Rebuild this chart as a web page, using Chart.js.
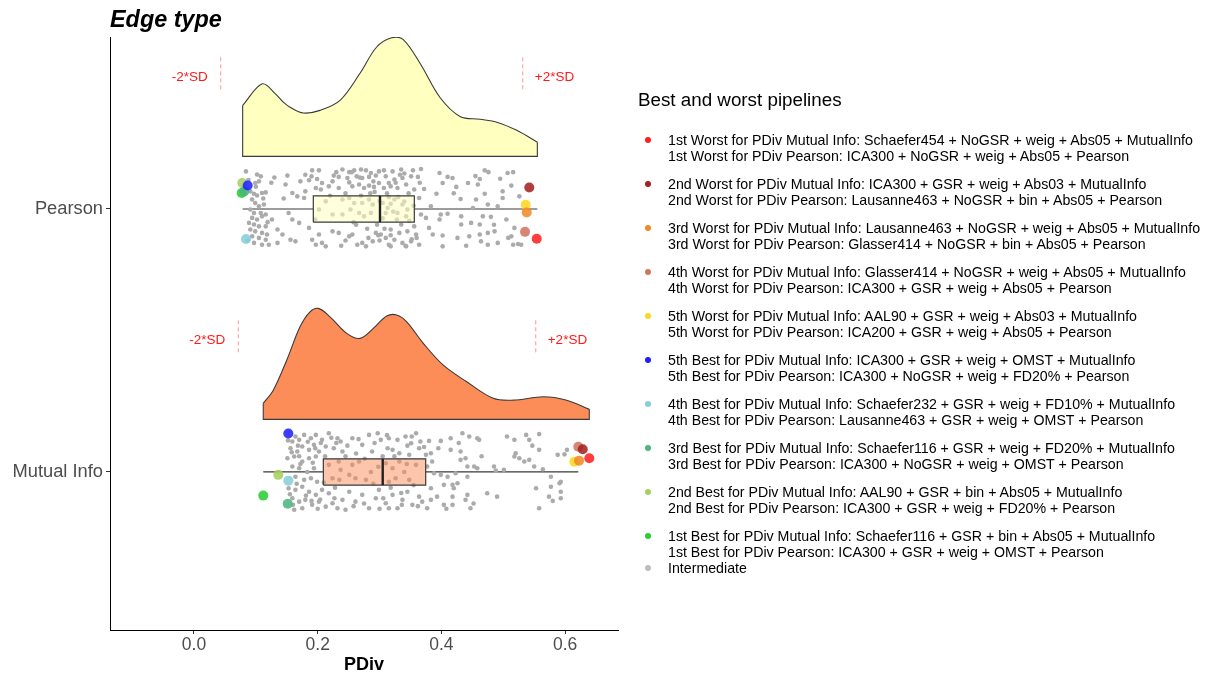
<!DOCTYPE html>
<html>
<head>
<meta charset="utf-8">
<script src="https://cdn.jsdelivr.net/npm/chart.js@4.4.0/dist/chart.umd.min.js"></script>
<style>
  body { margin: 0; background: #fff; font-family: "Liberation Sans", Arial, sans-serif; }
  #wrap { position: relative; width: 1216px; height: 676px; }
  #chart { position: absolute; left: 0; top: 0; }
  .lg-title { position: absolute; left: 638px; top: 89px; font-size: 18.8px; color: #000; white-space: nowrap; }
  .lg-item { position: absolute; left: 668px; font-size: 14.2px; line-height: 16px; color: #000; white-space: nowrap; }
  .lg-dot { position: absolute; left: 645px; width: 6px; height: 6px; border-radius: 50%; }
</style>
</head>
<body>
<div id="wrap">
  <canvas id="chart" width="1216" height="676"></canvas>
  <div id="legend"></div>
</div>
<script>
// ---- data ----
const categories = ['Mutual Info', 'Pearson'];
const categoryPos = [1, 2];
const xTicks = [0.0, 0.2, 0.4, 0.6];

// density curves (height in category-spacing units)
const pearsonDensityX = [0.0787, 0.1104, 0.1316, 0.1444, 0.1552, 0.1767, 0.2037, 0.2361, 0.2684, 0.2954, 0.3196, 0.3379, 0.3654, 0.3977, 0.4301, 0.4624, 0.4894, 0.5218, 0.5551];
const pearsonDensity  = [0.194, 0.276, 0.238, 0.206, 0.187, 0.165, 0.175, 0.213, 0.316, 0.416, 0.451, 0.445, 0.354, 0.224, 0.152, 0.141, 0.130, 0.099, 0.054];
const miDensityX = [0.1120, 0.1282, 0.1499, 0.1714, 0.1876, 0.2010, 0.2199, 0.2469, 0.2684, 0.2899, 0.3116, 0.3277, 0.3439, 0.3708, 0.4031, 0.4409, 0.4839, 0.5163, 0.5648, 0.6026, 0.6391];
const miDensity  = [0.061, 0.111, 0.225, 0.352, 0.409, 0.422, 0.390, 0.327, 0.308, 0.346, 0.393, 0.397, 0.371, 0.289, 0.206, 0.143, 0.080, 0.073, 0.086, 0.073, 0.038];

// boxplot stats, order: Mutual Info, Pearson
const boxMin    = [0.1120, 0.0787];
const boxQ1     = [0.2091, 0.1929];
const boxMedian = [0.3051, 0.3007];
const boxQ3     = [0.3746, 0.3562];
const boxMax    = [0.6213, 0.5551];

// mean -/+ 2*SD
const sdLow  = [0.0716, 0.0432];
const sdHigh = [0.5525, 0.5315];

// intermediate pipelines: [PDiv, vertical jitter]
const pearsonPoints = [
  [0.084,0.143],[0.102,0.131],[0.108,0.124],[0.151,0.127],[0.191,0.147],[0.202,0.147],[0.190,0.124],[0.240,0.150],[0.251,0.140],[0.259,0.147],[0.270,0.150],[0.278,0.147],[0.286,0.137],[0.299,0.143],[0.307,0.147],[0.226,0.127],[0.234,0.122],[0.248,0.118],[0.263,0.124],[0.272,0.118],[0.283,0.122],[0.294,0.127],[0.310,0.124],
  [0.099,0.099],[0.105,0.105],[0.148,0.093],[0.172,0.105],[0.186,0.109],[0.199,0.114],[0.180,0.067],[0.178,0.042],[0.251,0.101],[0.256,0.086],[0.267,0.093],[0.275,0.080],[0.283,0.089],[0.291,0.084],[0.299,0.099],[0.307,0.080],[0.315,0.099],[0.224,0.105],[0.207,0.099],
  [0.091,0.067],[0.097,0.058],[0.102,0.051],[0.110,0.061],[0.116,0.063],[0.159,0.061],[0.167,0.048],[0.197,0.080],[0.205,0.074],[0.218,0.086],[0.234,0.080],
  [0.213,0.029],[0.240,0.036],[0.251,0.042],[0.259,0.023],[0.272,0.023],[0.283,0.036],[0.289,0.017],[0.253,-0.002],[0.240,-0.021],[0.267,-0.015],[0.275,-0.028],[0.286,-0.015],[0.224,-0.021],[0.202,-0.002],[0.305,0.023],[0.313,0.004],[0.310,-0.015],
  [0.094,0.036],[0.099,0.023],[0.105,0.010],[0.113,0.017],[0.091,-0.002],[0.097,-0.015],[0.108,-0.015],[0.116,-0.021],[0.094,-0.034],[0.102,-0.040],[0.110,-0.028],[0.089,-0.053],[0.097,-0.059],[0.105,-0.066],[0.116,-0.066],[0.091,-0.078],[0.099,-0.085],[0.110,-0.091],[0.118,-0.097],[0.094,-0.104],[0.105,-0.110],[0.116,-0.117],[0.097,-0.129],[0.110,-0.136],[0.121,-0.136],
  [0.135,-0.129],[0.156,-0.117],[0.164,-0.123],[0.191,-0.117],[0.197,-0.136],[0.207,-0.129],[0.213,-0.142],[0.224,-0.085],[0.234,-0.091],[0.251,-0.104],[0.256,-0.097],[0.264,-0.136],[0.272,-0.129],[0.278,-0.142],[0.289,-0.123],[0.294,-0.091],[0.302,-0.097],[0.310,-0.110],[0.315,-0.136],[0.153,-0.015],[0.159,-0.040],[0.170,-0.053],[0.186,-0.072],[0.202,-0.097],[0.126,-0.040],[0.135,-0.078],[0.143,-0.097],
  [0.321,0.143],[0.335,0.150],[0.354,0.147],[0.367,0.152],[0.324,0.112],[0.337,0.118],[0.351,0.124],[0.362,0.122],[0.318,0.086],[0.329,0.080],[0.343,0.093],[0.356,0.074],[0.372,0.076],[0.364,0.042],[0.324,0.036],[0.337,0.017],[0.345,-0.002],[0.329,-0.015],[0.343,-0.028],[0.367,-0.021],[0.375,-0.034],[0.383,0.010],[0.318,-0.078],[0.332,-0.091],[0.345,-0.085],[0.359,-0.097],[0.324,-0.117],[0.337,-0.129],[0.351,-0.123],[0.364,-0.136],[0.318,-0.142],[0.343,-0.142],[0.356,-0.066],[0.335,-0.059],
  [0.397,0.137],[0.410,0.122],[0.418,0.118],[0.402,0.099],[0.424,0.084],[0.392,0.058],[0.443,0.099],[0.459,0.093],[0.462,0.114],[0.470,0.147],[0.476,0.140],[0.470,0.058],[0.456,0.036],[0.431,0.038],[0.475,0.017],[0.451,0.004],[0.491,0.010],[0.499,0.067],[0.499,0.042],[0.513,0.089],[0.507,0.137],[0.516,0.140],[0.526,0.048],
  [0.399,-0.021],[0.410,-0.018],[0.397,-0.040],[0.432,-0.028],[0.432,-0.059],[0.448,-0.053],[0.467,-0.028],[0.480,-0.030],[0.505,-0.040],[0.462,-0.059],[0.475,-0.091],[0.486,-0.085],[0.462,-0.097],[0.445,-0.104],[0.426,-0.110],[0.402,-0.101],[0.386,-0.097],[0.380,-0.072],[0.402,-0.142],[0.464,-0.123],[0.475,-0.136],[0.491,-0.129],[0.516,-0.136],[0.524,-0.133],[0.529,-0.136],[0.513,-0.104],[0.518,-0.072],
  [0.300,0.030],[0.305,-0.035],[0.318,0.020],[0.322,-0.010],[0.330,0.045],[0.340,0.028],[0.348,-0.045],[0.355,0.012],[0.296,-0.060],[0.308,-0.075],[0.312,0.060],[0.326,0.100],[0.340,0.135],[0.360,-0.110],[0.300,-0.120],[0.285,0.060],[0.262,-0.060],[0.245,-0.120],[0.230,0.140],[0.268,0.120],
  [0.088,0.110],[0.100,0.085],[0.112,0.040],[0.119,-0.050],[0.087,-0.120],[0.125,0.100],[0.245,0.060],[0.258,-0.050],[0.270,0.050],[0.280,-0.075],[0.292,0.065],[0.298,-0.100],[0.315,0.045],[0.328,-0.040],[0.333,0.130],[0.347,0.060],[0.352,-0.115],[0.365,0.100],
  [0.238,-0.140],[0.255,0.140],[0.282,-0.110],[0.290,0.105],[0.318,-0.100],[0.342,-0.140],[0.420,0.060],[0.440,-0.140],[0.455,0.125],[0.485,-0.060],[0.495,0.115],[0.508,-0.110],[0.180,0.130],[0.145,0.040],[0.130,0.120],[0.220,0.050],[0.196,-0.040]
];
const miPoints = [
  [0.164,0.135],[0.159,0.116],[0.170,0.122],[0.178,0.141],[0.189,0.128],[0.197,0.141],[0.207,0.122],[0.218,0.147],[0.232,0.128],[0.237,0.116],[0.156,0.090],[0.167,0.078],[0.175,0.097],[0.186,0.084],[0.194,0.103],[0.202,0.078],[0.213,0.097],[0.226,0.090],[0.240,0.078],
  [0.151,0.052],[0.162,0.059],[0.175,0.040],[0.186,0.052],[0.197,0.059],[0.159,0.021],[0.170,0.014],[0.183,0.000],[0.194,0.014],[0.164,-0.018],[0.178,-0.030],[0.189,-0.024],[0.199,-0.037],[0.153,-0.062],[0.164,-0.068],[0.175,-0.056],[0.186,-0.075],[0.197,-0.087],[0.207,-0.068],[0.218,-0.081],
  [0.159,-0.100],[0.170,-0.113],[0.180,-0.106],[0.191,-0.125],[0.202,-0.113],[0.213,-0.132],[0.224,-0.119],[0.162,-0.144],[0.175,-0.138],[0.232,-0.138],[0.240,-0.106],
  [0.218,0.027],[0.234,0.040],[0.237,0.008],[0.224,-0.024],[0.256,0.027],[0.267,0.040],[0.261,-0.024],[0.278,-0.030],[0.286,0.000],[0.251,-0.011],
  [0.256,0.128],[0.272,0.103],[0.283,0.141],[0.297,0.147],[0.302,0.122],[0.313,0.090],[0.321,0.084],[0.315,0.128],[0.329,0.122],[0.342,0.135],[0.351,0.109],[0.359,0.147],[0.288,0.078],[0.332,0.071],[0.348,0.065],[0.364,0.090],
  [0.310,0.033],[0.321,0.014],[0.332,0.040],[0.340,0.000],[0.326,-0.024],[0.348,-0.030],[0.359,0.027],[0.315,-0.037],
  [0.251,-0.075],[0.261,-0.113],[0.272,-0.087],[0.283,-0.138],[0.294,-0.100],[0.299,-0.068],[0.310,-0.119],[0.321,-0.087],[0.329,-0.138],[0.337,-0.106],[0.345,-0.075],[0.353,-0.125],[0.364,-0.094],[0.315,-0.138],[0.245,-0.144],
  [0.366,0.116],[0.380,0.118],[0.399,0.118],[0.415,0.128],[0.434,0.147],[0.445,0.135],[0.461,0.122],[0.415,0.084],[0.431,0.078],[0.375,0.065],[0.383,0.071],[0.431,0.046],[0.439,0.052],[0.385,0.040],[0.377,0.021],[0.442,0.021],[0.453,0.021],[0.458,0.014],[0.485,0.021],[0.501,0.008],[0.488,0.005],
  [0.388,-0.005],[0.399,-0.011],[0.410,-0.018],[0.423,-0.005],[0.442,-0.018],[0.418,-0.049],[0.404,-0.049],[0.383,-0.062],[0.426,-0.043],[0.420,-0.062],[0.369,-0.113],[0.383,-0.106],[0.393,-0.094],[0.404,-0.125],[0.418,-0.125],[0.418,-0.094],[0.442,-0.087],[0.439,-0.106],[0.447,-0.138],[0.377,-0.138],[0.474,-0.081],[0.490,-0.094],
  [0.506,0.135],[0.518,0.122],[0.537,0.141],[0.542,0.122],[0.558,0.144],[0.547,0.100],[0.558,0.084],[0.520,0.071],[0.518,0.059],[0.526,0.052],[0.534,0.040],[0.542,0.046],[0.550,0.021],[0.564,0.010],[0.577,-0.018],[0.593,-0.037],[0.591,-0.043],[0.553,-0.062],[0.577,-0.056],[0.593,-0.075],[0.574,-0.094],[0.580,-0.110],[0.593,-0.100],[0.558,-0.138],[0.588,0.065],[0.599,0.067],[0.603,0.084],[0.458,0.128],
  [0.155,-0.085],[0.168,0.100],[0.181,-0.090],[0.192,0.035],[0.205,0.110],[0.210,-0.040],[0.228,-0.060],[0.245,0.060],[0.262,0.070],[0.275,-0.120],[0.290,-0.045],[0.305,0.060],[0.318,-0.060],[0.335,-0.080],[0.345,0.100],[0.355,-0.050],[0.170,0.060],[0.200,-0.140],[0.230,0.110],[0.300,-0.140],
  [0.158,0.075],[0.166,-0.045],[0.172,0.030],[0.184,0.115],[0.190,-0.110],[0.196,0.090],[0.204,-0.105],[0.212,0.060],[0.222,0.130],[0.227,-0.100],[0.235,-0.030],[0.248,0.100],[0.258,-0.130],[0.266,0.125],[0.276,0.050],[0.292,0.110],
  [0.298,0.020],[0.306,-0.100],[0.312,0.140],[0.324,0.060],[0.336,-0.125],[0.344,0.030],[0.352,0.135],[0.362,-0.130],[0.372,0.095],[0.395,0.090],[0.408,-0.140],[0.428,0.110],[0.452,-0.120],[0.465,0.060],[0.160,-0.125],[0.152,0.120]
];

// best / worst pipelines (legend order)
const pipelineNames = ['1st Worst', '2nd Worst', '3rd Worst', '4th Worst', '5th Worst', '5th Best', '4th Best', '3rd Best', '2nd Best', '1st Best'];
const miPipelines = [
  'Schaefer454 + NoGSR + weig + Abs05 + MutualInfo', 'ICA300 + GSR + weig + Abs03 + MutualInfo', 'Lausanne463 + NoGSR + weig + Abs05 + MutualInfo',
  'Glasser414 + NoGSR + weig + Abs05 + MutualInfo', 'AAL90 + GSR + weig + Abs03 + MutualInfo', 'ICA300 + GSR + weig + OMST + MutualInfo',
  'Schaefer232 + GSR + weig + FD10% + MutualInfo', 'Schaefer116 + GSR + weig + FD20% + MutualInfo', 'AAL90 + GSR + bin + Abs05 + MutualInfo',
  'Schaefer116 + GSR + bin + Abs05 + MutualInfo'
];
const pearsonPipelines = [
  'ICA300 + NoGSR + weig + Abs05 + Pearson', 'Lausanne463 + NoGSR + bin + Abs05 + Pearson', 'Glasser414 + NoGSR + bin + Abs05 + Pearson',
  'ICA300 + GSR + weig + Abs05 + Pearson', 'ICA200 + GSR + weig + Abs05 + Pearson', 'ICA300 + NoGSR + weig + FD20% + Pearson',
  'Lausanne463 + GSR + weig + OMST + Pearson', 'ICA300 + NoGSR + weig + OMST + Pearson', 'ICA300 + GSR + weig + FD20% + Pearson',
  'ICA300 + GSR + weig + OMST + Pearson'
];
const pipelineColors = ['#FF1F1F', '#A3201F', '#F08A26', '#D2735F', '#FFD61F', '#1F1FFF', '#86CDD9', '#4CB57E', '#A5CF5E', '#27CC2E'];
const miHighlightX      = [0.6391, 0.6285, 0.6225, 0.6213, 0.6149, 0.1525, 0.1525, 0.1515, 0.1363, 0.1120];
const miHighlightJitter = [0.052, 0.086, 0.043, 0.096, 0.039, 0.146, -0.033, -0.121, -0.011, -0.090];
const pearsonHighlightX      = [0.5541, 0.5421, 0.5379, 0.5352, 0.5363, 0.0868, 0.0841, 0.0813, 0.0781, 0.0771];
const pearsonHighlightJitter = [-0.113, 0.082, -0.013, -0.087, 0.016, 0.089, -0.114, 0.067, 0.099, 0.061];

// ---- styling ----
const densityColors = ['#FC8D59', '#FFFFBF'];
const boxColors = ['rgba(252,141,89,0.5)', 'rgba(255,255,191,0.55)'];
const DENS_OFF = 0.2, BOX_HALF = 0.05, SD_LINE = [0.455, 0.585], SD_LABEL = 0.5;
const OUTLINE = '#3A3A3A';

const densX = [miDensityX, pearsonDensityX];
const densY = [miDensity, pearsonDensity];
const gray = [miPoints, pearsonPoints];
const hiX = [miHighlightX, pearsonHighlightX];
const hiJ = [miHighlightJitter, pearsonHighlightJitter];

const datasets = [];
categoryPos.forEach(function(c, i) {
    const base = c + DENS_OFF;
    const xs = densX[i], ds = densY[i], n = xs.length;
    // half-violin
    datasets.push({
        data: xs.map((x, k) => ({x: x, y: base + ds[k]})),
        fill: {value: base}, backgroundColor: densityColors[i],
        borderColor: OUTLINE, borderWidth: 1.1, pointRadius: 0,
        tension: 0.35, order: 10
    });
    datasets.push({
        data: [{x: xs[0], y: base + ds[0]}, {x: xs[0], y: base}, {x: xs[n - 1], y: base}, {x: xs[n - 1], y: base + ds[n - 1]}],
        fill: false, borderColor: OUTLINE, borderWidth: 1.1, pointRadius: 0, order: 9
    });
    // -2SD / +2SD marks
    [sdLow[i], sdHigh[i]].forEach(function(v) {
        datasets.push({
            data: [{x: v, y: c + SD_LINE[0]}, {x: v, y: c + SD_LINE[1]}],
            borderColor: 'rgba(255,80,80,0.6)', borderWidth: 1, borderDash: [4, 3],
            pointRadius: 0, fill: false, order: 9
        });
    });
    // whiskers
    datasets.push({
        data: [{x: boxMin[i], y: c}, {x: boxQ1[i], y: c}, {x: boxMedian[i], y: null}, {x: boxQ3[i], y: c}, {x: boxMax[i], y: c}],
        borderColor: OUTLINE, borderWidth: 1.2, pointRadius: 0, fill: false, spanGaps: false, order: 8
    });
    // jittered intermediate points
    datasets.push({
        data: gray[i].map(p => ({x: p[0], y: c + p[1]})),
        showLine: false, pointRadius: 2.3, pointBorderWidth: 0,
        pointBackgroundColor: '#ABABAB', order: 7
    });
    // box
    datasets.push({
        data: [{x: boxQ1[i], y: c - BOX_HALF}, {x: boxQ3[i], y: c - BOX_HALF}, {x: boxQ3[i], y: c + BOX_HALF}, {x: boxQ1[i], y: c + BOX_HALF}, {x: boxQ1[i], y: c - BOX_HALF}],
        fill: 'shape', backgroundColor: boxColors[i], borderColor: OUTLINE, borderWidth: 1.2,
        pointRadius: 0, order: 6
    });
    datasets.push({
        data: [{x: boxMedian[i], y: c - BOX_HALF}, {x: boxMedian[i], y: c + BOX_HALF}],
        borderColor: '#222', borderWidth: 2.4, pointRadius: 0, fill: false, order: 5
    });
    // best / worst pipelines
    datasets.push({
        data: hiX[i].map((x, k) => ({x: x, y: c + hiJ[i][k]})).reverse(),
        showLine: false, pointRadius: 5, pointBorderWidth: 0,
        pointBackgroundColor: pipelineColors.map(col => col + 'DD').reverse(), order: 1
    });
});

// title and SD labels
const annotate = {
    id: 'annotate',
    afterDatasetsDraw(chart) {
        const ctx = chart.ctx, x = chart.scales.x, y = chart.scales.y;
        ctx.save();
        ctx.font = 'italic bold 23.4px "Liberation Sans"';
        ctx.fillStyle = '#000';
        ctx.textAlign = 'left';
        ctx.textBaseline = 'alphabetic';
        ctx.fillText('Edge type', chart.chartArea.left, 27);
        ctx.font = '13.5px "Liberation Sans"';
        ctx.fillStyle = '#FF1A1A';
        ctx.textBaseline = 'middle';
        categoryPos.forEach(function(c, i) {
            const ty = y.getPixelForValue(c + SD_LABEL);
            ctx.textAlign = 'right';
            ctx.fillText('-2*SD', x.getPixelForValue(sdLow[i]) - 13, ty);
            ctx.textAlign = 'left';
            ctx.fillText('+2*SD', x.getPixelForValue(sdHigh[i]) + 12, ty);
        });
        ctx.restore();
    }
};

Chart.defaults.font.family = '"Liberation Sans", Arial, sans-serif';

new Chart(document.getElementById('chart'), {
    type: 'line',
    data: { datasets: datasets },
    options: {
        responsive: false,
        animation: false,
        events: [],
        layout: { padding: { left: 0, top: 37, right: 598, bottom: 0 } },
        plugins: { legend: { display: false }, tooltip: { enabled: false } },
        scales: {
            x: {
                type: 'linear', min: -0.1358, max: 0.6855,
                afterBuildTicks: function(s) { s.ticks = xTicks.map(v => ({value: v})); },
                afterFit: function(s) { s.height = 46; },
                ticks: { callback: v => v.toFixed(1), font: {size: 17.5}, color: '#4D4D4D', padding: 1, maxRotation: 0 },
                grid: { display: true, drawOnChartArea: false, tickLength: 4, color: '#333', tickWidth: 1 },
                border: { display: true, color: '#000', width: 1 },
                title: { display: true, text: 'PDiv', color: '#000', font: {size: 18, weight: 'bold'}, padding: {top: 0, bottom: 0} }
            },
            y: {
                type: 'linear', min: 0.399, max: 2.654,
                afterBuildTicks: function(s) { s.ticks = categoryPos.map(v => ({value: v})); },
                afterFit: function(s) { s.width = 110; },
                ticks: { callback: v => categories[categoryPos.indexOf(v)], font: {size: 18.3}, color: '#4D4D4D', padding: 3 },
                grid: { display: true, drawOnChartArea: false, tickLength: 4, color: '#333', tickWidth: 1 },
                border: { display: true, color: '#000', width: 1 }
            }
        }
    },
    plugins: [annotate]
});

// legend
const legend = document.getElementById('legend');
let html = '<div class="lg-title">Best and worst pipelines</div>';
pipelineNames.forEach(function(name, k) {
    const top = 132 + k * 44;
    html += '<div class="lg-dot" style="top:' + (top + 5) + 'px;background:' + pipelineColors[k] + '"></div>';
    html += '<div class="lg-item" style="top:' + top + 'px">' + name + ' for PDiv Mutual Info: ' + miPipelines[k] +
            '<br>' + name + ' for PDiv Pearson: ' + pearsonPipelines[k] + '</div>';
});
html += '<div class="lg-dot" style="top:' + (132 + 10 * 44 - 7) + 'px;background:#BDBDBD"></div>';
html += '<div class="lg-item" style="top:' + (132 + 10 * 44 - 12) + 'px">Intermediate</div>';
legend.innerHTML = html;
</script>
</body>
</html>
